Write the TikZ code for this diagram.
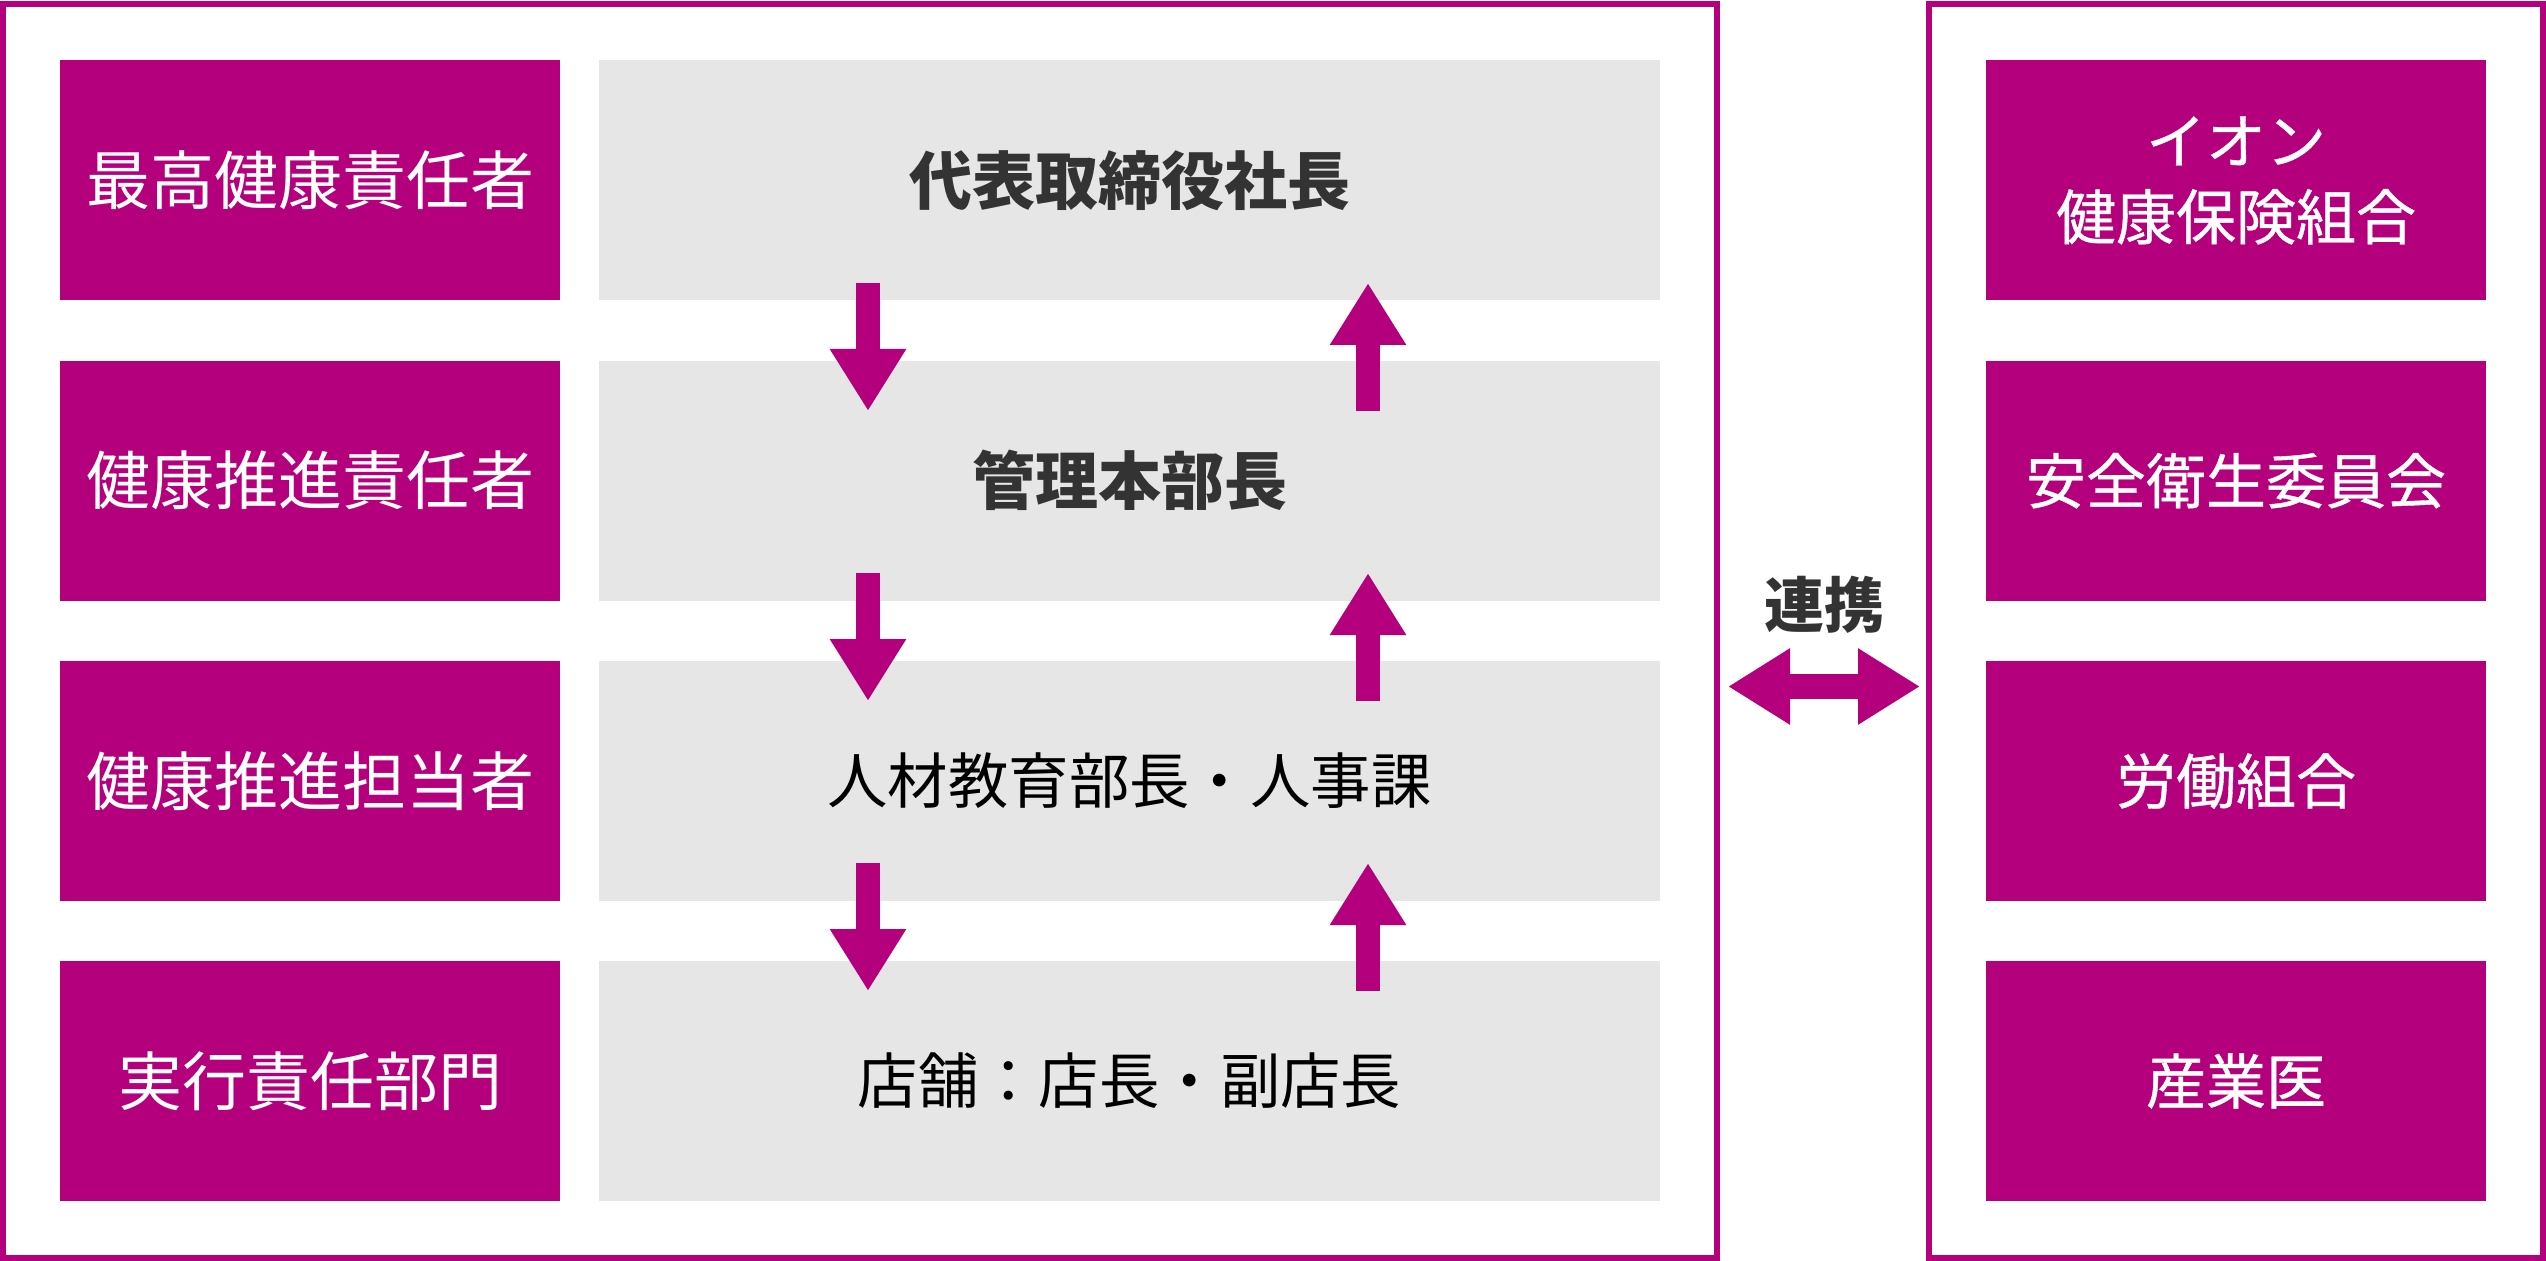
\documentclass[tikz,border=0pt]{standalone}
\usepackage{fontspec}
\setmainfont{Noto Sans CJK JP}
\newfontfamily\jpmedium[FakeBold=0.6]{Noto Sans CJK JP}
\usetikzlibrary{arrows.meta}
\definecolor{aeon}{HTML}{B5007E}
\definecolor{panel}{HTML}{E6E6E6}
\definecolor{ink}{HTML}{333333}
\tikzset{
  rolebox/.style={fill=aeon, text=white, minimum width=250pt, minimum height=120pt, inner sep=0pt, font=\fontsize{32}{38}\selectfont, align=center},
  orgbox/.style={fill=panel, text=black, minimum width=530.5pt, minimum height=120pt, inner sep=0pt, font=\fontsize{30.2}{36}\selectfont},
  orgbold/.style={orgbox, text=ink, font=\fontsize{31.5}{36}\selectfont\bfseries},
  partner/.style={fill=aeon, text=white, minimum width=250pt, minimum height=120pt, inner sep=0pt, font=\jpmedium\fontsize{30}{38}\selectfont, align=center},
  frame/.style={draw=aeon, line width=3pt},
  flow/.style={draw=aeon, line width=12pt, -{Triangle[width=36pt,length=31pt]}},
  link/.style={draw=aeon, line width=12.5pt, {Triangle[width=36pt,length=31pt]}-{Triangle[width=36pt,length=31pt]}},
  linklabel/.style={text=ink, font=\fontsize{30}{36}\selectfont\bfseries, inner sep=0pt},
}
\begin{document}
\begin{tikzpicture}[x=0.5pt,y=-0.5pt]
\useasboundingbox (0,0) rectangle (2546,1261);
\fill[white] (0,0) rectangle (2546,1261);
% frames
\draw[frame] (3,4) rectangle (1717,1257.5);
\draw[frame] (1929,4) rectangle (2542.5,1257.5);
% left role boxes
\node[rolebox] (r1) at (310,180.5) {最高健康責任者};
\node[rolebox] (r2) at (310,480.7) {健康推進責任者};
\node[rolebox] (r3) at (310,781) {健康推進担当者};
\node[rolebox] (r4) at (310,1081) {実行責任部門};
% organisation boxes
\node[orgbold] (g1) at (1129.5,180.5) {代表取締役社長};
\node[orgbold] (g2) at (1129.5,480.7) {管理本部長};
\node[orgbox]  (g3) at (1129.5,781) {人材教育部長・人事課};
\node[orgbox]  (g4) at (1129.5,1081) {店舗：店長・副店長};
% partner boxes
\node[partner] (p1) at (2236,180.5) {イオン\\健康保険組合};
\node[partner] (p2) at (2236,480.7) {安全衛生委員会};
\node[partner] (p3) at (2236,781) {労働組合};
\node[partner] (p4) at (2236,1081) {産業医};
% flow arrows
\coordinate (d1a) at (868,283);  \coordinate (d1b) at (868,411);
\coordinate (d2a) at (868,573);  \coordinate (d2b) at (868,701);
\coordinate (d3a) at (868,863);  \coordinate (d3b) at (868,991);
\coordinate (u1a) at (1368,411); \coordinate (u1b) at (1368,283);
\coordinate (u2a) at (1368,701); \coordinate (u2b) at (1368,573);
\coordinate (u3a) at (1368,991); \coordinate (u3b) at (1368,863);
\draw[flow] (d1a) -- (d1b);
\draw[flow] (d2a) -- (d2b);
\draw[flow] (d3a) -- (d3b);
\draw[flow] (u1a) -- (u1b);
\draw[flow] (u2a) -- (u2b);
\draw[flow] (u3a) -- (u3b);
% link
\coordinate (la) at (1728,686.5);
\coordinate (lb) at (1920,686.5);
\draw[link] (la) -- (lb);
\node[linklabel] (lt) at (1824,605) {連携};
\end{tikzpicture}
\end{document}
